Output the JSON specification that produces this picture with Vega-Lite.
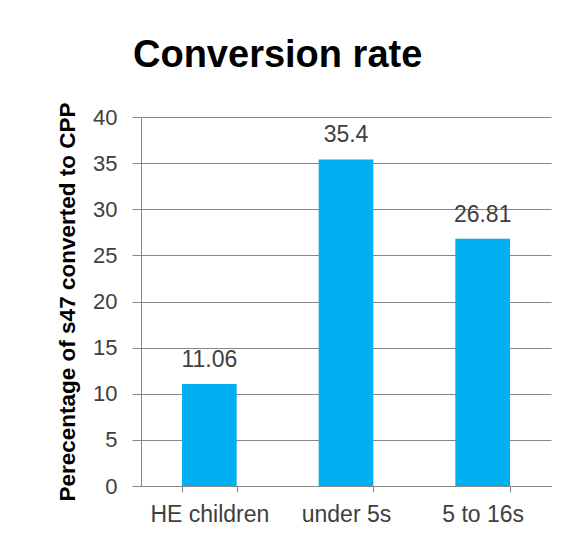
{
  "$schema": "https://vega.github.io/schema/vega-lite/v6.json",
  "autosize": "none",
  "width": 410,
  "height": 369,
  "padding": {"left": 141, "top": 117, "right": 17, "bottom": 57},
  "background": "white",
  "title": {
    "text": "Conversion rate",
    "anchor": "start",
    "frame": "group",
    "dx": -8,
    "font": "Liberation Sans",
    "fontSize": 38,
    "fontWeight": "bold",
    "color": "#000000",
    "baseline": "alphabetic",
    "offset": -3
  },
  "config": {
    "view": {"stroke": null},
    "font": "Liberation Sans"
  },
  "data": {
    "values": [
      {"group": "HE children", "rate": 11.06, "label": "11.06"},
      {"group": "under 5s", "rate": 35.4, "label": "35.4"},
      {"group": "5 to 16s", "rate": 26.81, "label": "26.81"}
    ]
  },
  "encoding": {
    "x": {
      "field": "group",
      "type": "nominal",
      "sort": null,
      "scale": {"paddingInner": 0.6, "paddingOuter": 0.3},
      "axis": {
        "title": null,
        "labelAngle": 0,
        "labelFont": "Liberation Sans",
        "labelFontSize": 23,
        "labelColor": "#404040",
        "labelPadding": 11,
        "tickBand": "extent",
        "tickSize": 6,
        "tickColor": "#868686",
        "domainColor": "#868686",
        "grid": false
      }
    },
    "y": {
      "field": "rate",
      "type": "quantitative",
      "scale": {"domain": [0, 40]},
      "axis": {
        "title": "Perecentage of s47 converted to CPP",
        "titleFont": "Liberation Sans",
        "titleFontSize": 22.5,
        "titleFontWeight": "bold",
        "titleColor": "#000000",
        "titlePadding": 13,
        "values": [0, 5, 10, 15, 20, 25, 30, 35, 40],
        "labelFont": "Liberation Sans",
        "labelFontSize": 22,
        "labelColor": "#404040",
        "labelPadding": 15,
        "tickSize": 9,
        "tickColor": "#868686",
        "domainColor": "#868686",
        "gridColor": "#868686",
        "gridOpacity": 1
      }
    }
  },
  "layer": [
    {"mark": {"type": "bar", "color": "#00B0F0"}},
    {
      "mark": {"type": "text", "baseline": "alphabetic", "dy": -17, "fontSize": 23, "color": "#404040", "font": "Liberation Sans"},
      "encoding": {"text": {"field": "label"}}
    }
  ]
}
